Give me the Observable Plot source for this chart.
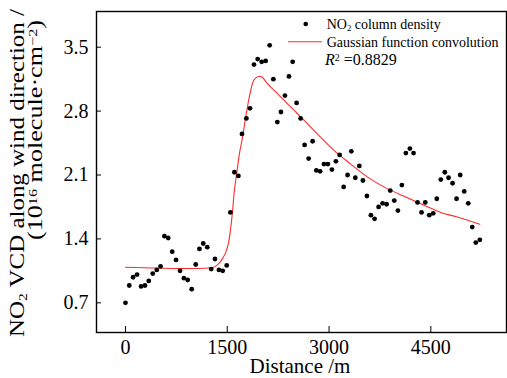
<!DOCTYPE html>
<html><head><meta charset="utf-8">
<script src="https://cdn.jsdelivr.net/npm/d3@7"></script>
<script src="https://cdn.jsdelivr.net/npm/@observablehq/plot@0.6"></script>
<style>html,body{margin:0;padding:0;background:#fff;}</style>
</head><body><div id="chart"></div>
<script>
// NO2 column density points (distance in m, VCD in 1e16 molecule/cm2)
const distance = [0,56,112,171,230,287,343,402,461,517,
  574,630,689,745,804,861,917,976,1035,1090,
  1146,1205,1263,1319,1377,1433,1492,1546,1605,1664,
  1717,1782,1835,1894,1948,2007,2066,2125,2179,2238,
  2291,2350,2409,2464,2522,2581,2640,2699,2758,2813,
  2869,2925,2983,3042,3101,3156,3215,3273,3328,3387,
  3446,3499,3558,3617,3671,3730,3789,3848,3902,3961,
  4014,4073,4132,4191,4245,4304,4363,4418,4477,4535,
  4588,4647,4706,4761,4820,4879,4933,4992,5051,5110,
  5163,5222];
const vcd = [0.70,0.89,0.98,1.01,0.88,0.89,0.94,1.02,1.06,1.10,
  1.43,1.41,1.26,1.17,1.05,0.97,0.95,0.85,1.12,1.29,
  1.35,1.31,1.07,1.18,1.06,1.05,1.11,1.69,2.13,2.09,
  2.55,2.72,2.83,3.31,3.37,3.34,3.35,3.52,3.15,2.68,
  2.79,2.97,3.18,3.34,2.89,2.72,2.43,2.28,2.47,2.15,
  2.14,2.22,2.22,2.16,2.25,2.32,1.97,2.10,2.36,2.07,
  2.20,2.04,1.87,1.66,1.62,1.75,1.79,1.78,1.93,1.82,
  1.71,1.99,2.34,2.39,2.34,1.80,1.69,1.80,1.66,1.68,
  1.84,2.05,2.13,2.07,2.01,1.84,2.10,1.92,1.79,1.53,
  1.36,1.39];
// Gaussian function convolution fit curve
const fitDistance = [0,1300,1344,1389,1433,1477,1517,1546,1576,1602,
  1624,1654,1683,1717,1771,1835,1894,1958,2017,2091,
  2188,2335,2483,2630,2827,3072,3318,3564,3808,4153,
  4397,4643,4889,5222];
const fitVcd = [1.09,1.09,1.11,1.14,1.19,1.25,1.35,1.49,1.69,1.91,
  2.04,2.20,2.35,2.48,2.73,2.99,3.14,3.18,3.17,3.10,
  3.03,2.92,2.81,2.70,2.55,2.37,2.22,2.08,1.97,1.85,
  1.77,1.69,1.64,1.56];
const xTicks = [0,1500,3000,4500];
const yTicks = [0.7,1.4,2.1,2.8,3.5];
const rSquared = "0.8829";

const pts = distance.map((d,i)=>({d, v: vcd[i]}));
const fit = fitDistance.map((d,i)=>({d, v: fitVcd[i]}));
const serif = "'Liberation Serif', 'Times New Roman', serif";

const chart = Plot.plot({
  width: 507, height: 378,
  marginLeft: 96, marginRight: 1, marginTop: 11, marginBottom: 46,
  style: {fontFamily: serif, fontSize: "20px", color: "#000", background: "#fff", overflow: "visible"},
  x: {domain: [-427, 5615]},
  y: {domain: [0.375, 3.891]},
  marks: [
    Plot.axisX(xTicks, {tickSize: -6, tickPadding: 13, tickFormat: d => String(d), label: null, fontSize: 20}),
    Plot.axisY(yTicks, {tickSize: -5, tickPadding: 13, tickFormat: d => d.toFixed(1), label: null, fontSize: 20}),
    Plot.line(fit, {x: "d", y: "v", stroke: "#ff2b2b", strokeWidth: 1.1, curve: "catmull-rom"}),
    Plot.dot(pts, {x: "d", y: "v", r: 2.4, fill: "#000", stroke: "none"}),
    Plot.frame({stroke: "#000", strokeWidth: 1.4})
  ]
});
document.getElementById("chart").appendChild(chart);

const svg = d3.select(chart);
function txt(x, y, size) {
  return svg.append("text").attr("x", x).attr("y", y).attr("text-anchor", "start")
    .attr("font-family", serif).attr("font-size", size).attr("fill", "#000");
}
// x label
svg.append("text").attr("x", 300).attr("y", 373).attr("text-anchor", "middle")
  .attr("font-family", serif).attr("font-size", 21).attr("fill", "#000").text("Distance /m");

// rich text helper (sub/superscripts, italic)
function rich(sel, parts, size) {
  parts.forEach(p => {
    const t = sel.append("tspan").text(p.t);
    if (p.sub) t.attr("font-size", size*0.62).attr("baseline-shift", "-25%");
    if (p.sup) t.attr("font-size", size*0.62).attr("baseline-shift", "45%");
    if (p.it) t.attr("font-style", "italic");
  });
}
// y label (two lines, rotated)
const y1 = svg.append("text").attr("transform", "translate(24,337) rotate(-90)").attr("text-anchor", "start")
  .attr("font-family", serif).attr("font-size", 20).attr("fill", "#000")
  .attr("textLength", 328).attr("lengthAdjust", "spacingAndGlyphs");
rich(y1, [{t:"NO"},{t:"2",sub:true},{t:" VCD along wind direction /"}], 20);
const y2 = svg.append("text").attr("transform", "translate(42,240) rotate(-90)").attr("text-anchor", "start")
  .attr("font-family", serif).attr("font-size", 20).attr("fill", "#000")
  .attr("textLength", 220).attr("lengthAdjust", "spacingAndGlyphs");
rich(y2, [{t:"(10"},{t:"16",sup:true},{t:" molecule\u00b7cm"},{t:"\u22122",sup:true},{t:")"}], 20);

// legend
svg.append("circle").attr("cx", 305.7).attr("cy", 24).attr("r", 2.3).attr("fill", "#000");
rich(txt(326.7, 29, 14), [{t:"NO"},{t:"2",sub:true},{t:" column density"}], 14);
svg.append("line").attr("x1", 288).attr("x2", 322).attr("y1", 41.7).attr("y2", 41.7).attr("stroke", "#ff2b2b").attr("stroke-width", 1.1);
txt(326.7, 46.5, 14).text("Gaussian function convolution");
rich(txt(325, 65, 16), [{t:"R",it:true},{t:"2",sup:true},{t:" =" + rSquared}], 16);
</script>
</body></html>
